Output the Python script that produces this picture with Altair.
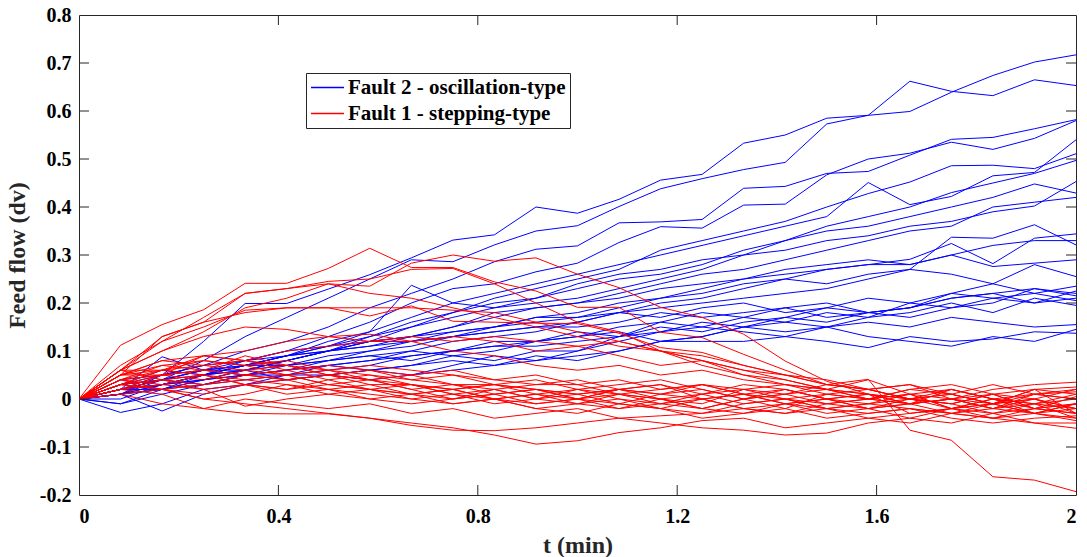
import altair as alt
import pandas as pd

T = [0, 0.0833, 0.1667, 0.25, 0.3333, 0.4167, 0.5, 0.5833, 0.6667, 0.75, 0.8333, 0.9167,
     1.0, 1.0833, 1.1667, 1.25, 1.3333, 1.4167, 1.5, 1.5833, 1.6667, 1.75, 1.8333, 1.9167, 2.0]

BLUE_NAME = "Fault 2 - oscillation-type"
RED_NAME = "Fault 1 - stepping-type"

blue_lines = [
    [0,0.01,0.05,0.12,0.199,0.199,0.229,0.259,0.294,0.331,0.342,0.400,0.387,0.416,0.456,0.468,0.533,0.550,0.585,0.591,0.662,0.641,0.632,0.665,0.653],
    [0,0.02,0.04,0.08,0.13,0.17,0.21,0.25,0.29,0.286,0.321,0.350,0.361,0.401,0.438,0.459,0.478,0.493,0.573,0.591,0.599,0.639,0.674,0.702,0.717],
    [0,0.03,0.05,0.07,0.10,0.12,0.15,0.19,0.22,0.25,0.286,0.312,0.319,0.367,0.369,0.374,0.439,0.443,0.470,0.474,0.508,0.541,0.545,0.563,0.582],
    [0,0.02,0.04,0.06,0.08,0.10,0.13,0.16,0.20,0.23,0.24,0.265,0.283,0.326,0.359,0.356,0.404,0.406,0.467,0.500,0.512,0.535,0.520,0.543,0.580],
    [0,0.01,0.03,0.05,0.07,0.09,0.12,0.14,0.17,0.20,0.22,0.24,0.26,0.28,0.30,0.32,0.34,0.36,0.38,0.451,0.405,0.422,0.465,0.472,0.540],
    [0,0.02,0.04,0.05,0.08,0.10,0.11,0.13,0.15,0.18,0.21,0.23,0.25,0.27,0.31,0.33,0.35,0.37,0.40,0.428,0.452,0.486,0.487,0.480,0.511],
    [0,-0.01,0.02,0.05,0.06,0.08,0.10,0.13,0.16,0.18,0.20,0.21,0.24,0.26,0.27,0.29,0.30,0.33,0.36,0.38,0.40,0.430,0.450,0.470,0.497],
    [0,0.03,0.06,0.05,0.07,0.09,0.11,0.14,0.237,0.20,0.19,0.21,0.23,0.25,0.26,0.28,0.31,0.33,0.35,0.36,0.38,0.40,0.42,0.448,0.429],
    [0,0.01,0.02,0.04,0.06,0.08,0.10,0.12,0.15,0.17,0.19,0.20,0.21,0.23,0.25,0.27,0.30,0.31,0.33,0.34,0.36,0.37,0.39,0.402,0.453],
    [0,0.02,0.03,0.05,0.07,0.09,0.10,0.12,0.13,0.15,0.17,0.19,0.20,0.22,0.24,0.26,0.27,0.29,0.31,0.33,0.35,0.36,0.40,0.41,0.420],
    [0,0.02,0.03,0.04,0.06,0.07,0.09,0.10,0.12,0.13,0.15,0.17,0.17,0.19,0.21,0.22,0.24,0.25,0.27,0.28,0.291,0.324,0.282,0.335,0.344],
    [0,0.01,0.02,0.03,0.05,0.07,0.08,0.09,0.10,0.12,0.13,0.14,0.16,0.18,0.20,0.21,0.23,0.25,0.24,0.26,0.27,0.337,0.335,0.363,0.321],
    [0,0.03,0.04,0.06,0.07,0.09,0.10,0.11,0.12,0.14,0.15,0.17,0.18,0.20,0.21,0.23,0.25,0.26,0.27,0.28,0.28,0.300,0.276,0.283,0.290],
    [0,0.02,0.05,0.06,0.06,0.08,0.10,0.12,0.12,0.13,0.14,0.15,0.16,0.18,0.19,0.20,0.21,0.22,0.23,0.25,0.27,0.26,0.24,0.28,0.255],
    [0,0.04,0.05,0.07,0.08,0.09,0.11,0.12,0.13,0.14,0.15,0.16,0.17,0.18,0.17,0.19,0.20,0.18,0.19,0.21,0.20,0.22,0.24,0.22,0.235],
    [0,0.01,0.03,0.05,0.07,0.07,0.08,0.10,0.11,0.13,0.14,0.15,0.15,0.16,0.18,0.17,0.18,0.19,0.17,0.18,0.19,0.21,0.22,0.23,0.215],
    [0,0.03,0.04,0.03,0.05,0.06,0.07,0.08,0.09,0.10,0.11,0.12,0.13,0.15,0.16,0.15,0.17,0.16,0.18,0.17,0.20,0.19,0.21,0.20,0.210],
    [0,0.02,0.02,0.04,0.05,0.05,0.07,0.08,0.10,0.09,0.10,0.12,0.14,0.13,0.14,0.16,0.15,0.17,0.16,0.18,0.17,0.19,0.20,0.23,0.220],
    [0,0.01,0.04,0.06,0.05,0.06,0.08,0.09,0.08,0.10,0.11,0.11,0.12,0.13,0.15,0.14,0.16,0.17,0.19,0.18,0.19,0.22,0.21,0.22,0.205],
    [0,-0.01,0.01,0.03,0.04,0.05,0.06,0.07,0.09,0.10,0.12,0.12,0.13,0.14,0.12,0.13,0.15,0.16,0.15,0.17,0.18,0.20,0.18,0.21,0.195],
    [0,0.02,0.03,0.04,0.05,0.06,0.07,0.06,0.07,0.08,0.07,0.09,0.08,0.10,0.12,0.13,0.15,0.14,0.15,0.16,0.15,0.17,0.16,0.15,0.155],
    [0,-0.028,-0.01,0.02,0.03,0.05,0.05,0.04,0.05,0.06,0.07,0.08,0.09,0.10,0.12,0.12,0.12,0.13,0.12,0.107,0.13,0.12,0.125,0.14,0.137],
    [0,0.00,0.03,0.05,0.06,0.04,0.05,0.06,0.07,0.09,0.08,0.10,0.10,0.12,0.14,0.15,0.14,0.13,0.15,0.13,0.12,0.11,0.13,0.12,0.145],
    [0,0.01,-0.025,0.01,0.03,0.04,0.05,0.06,0.05,0.07,0.09,0.08,0.10,0.13,0.16,0.18,0.17,0.19,0.20,0.18,0.19,0.21,0.22,0.20,0.225],
    [0,0.02,0.088,0.06,0.07,0.08,0.10,0.11,0.13,0.15,0.18,0.19,0.20,0.21,0.23,0.24,0.25,0.27,0.28,0.29,0.28,0.30,0.32,0.33,0.330],
]

red_lines = [
    [0,0.112,0.155,0.186,0.241,0.241,0.272,0.314,0.274,0.274,0.244,0.225,0.191,0.191,0.139,0.128,0.093,0.06,0.03,0.02,0.0,-0.01,0.01,-0.02,-0.01],
    [0,0.06,0.10,0.14,0.19,0.21,0.24,0.235,0.283,0.300,0.287,0.294,0.260,0.232,0.191,0.170,0.135,0.079,0.037,0.01,-0.01,0.0,-0.02,0.01,0.0],
    [0,0.06,0.12,0.17,0.22,0.23,0.245,0.25,0.27,0.272,0.24,0.20,0.16,0.14,0.10,0.07,0.05,0.03,0.02,0.0,0.01,-0.02,0.0,-0.03,-0.01],
    [0,0.05,0.13,0.16,0.18,0.19,0.19,0.173,0.194,0.162,0.160,0.158,0.157,0.137,0.107,0.097,0.07,0.05,0.03,0.02,0.0,0.01,-0.01,0.02,-0.03],
    [0,0.07,0.12,0.15,0.185,0.19,0.19,0.19,0.19,0.185,0.18,0.16,0.14,0.12,0.10,0.08,0.06,0.04,0.02,0.01,0.0,-0.01,0.01,0.0,0.02],
    [0,0.06,0.13,0.16,0.22,0.23,0.24,0.22,0.21,0.19,0.17,0.15,0.13,0.11,0.10,0.09,0.07,0.05,0.04,0.02,0.03,0.01,-0.01,0.0,-0.02],
    [0,0.06,0.10,0.13,0.15,0.145,0.13,0.135,0.12,0.13,0.12,0.10,0.11,0.09,0.07,0.08,0.05,0.04,0.02,0.01,0.0,0.02,0.0,-0.02,-0.03],
    [0,0.05,0.08,0.09,0.10,0.12,0.13,0.12,0.13,0.12,0.13,0.12,0.11,0.12,0.10,0.08,0.06,0.05,0.03,0.02,0.03,0.0,-0.01,0.01,0.02],
    [0,0.04,0.06,0.09,0.08,0.10,0.11,0.12,0.12,0.10,0.09,0.07,0.06,0.07,0.05,0.06,0.04,0.03,0.02,0.04,0.01,0.02,0.0,-0.01,0.01],
    [0,0.05,0.06,0.07,0.08,0.07,0.06,0.05,0.04,0.03,0.03,0.02,0.01,0.02,0.0,0.01,-0.01,0.0,0.01,0.02,0.0,-0.02,-0.01,0.0,-0.02],
    [0,0.03,0.05,0.09,0.08,0.06,0.07,0.06,0.05,0.06,0.04,0.03,0.03,0.01,0.02,0.03,0.01,0.0,-0.01,0.0,0.02,0.01,0.03,0.01,0.0],
    [0,0.06,0.04,0.03,0.05,0.06,0.04,0.05,0.03,0.02,0.03,0.01,0.0,-0.01,0.01,0.02,0.0,0.02,0.0,-0.02,-0.01,0.0,0.02,0.03,0.035],
    [0,0.02,0.04,0.05,0.04,0.05,0.03,0.04,0.02,0.03,0.01,0.02,0.0,0.02,0.03,0.0,0.01,-0.01,0.0,0.01,-0.03,-0.02,0.0,-0.01,-0.04],
    [0,0.04,0.07,0.06,0.05,0.04,0.05,0.03,0.03,0.01,0.0,0.01,0.02,0.0,-0.01,0.01,0.03,0.02,0.0,-0.01,0.0,0.01,-0.01,0.02,0.01],
    [0,0.01,0.02,0.03,0.04,0.03,0.02,0.03,0.01,0.0,0.02,0.0,-0.01,0.01,0.0,-0.02,0.0,0.01,-0.01,0.0,0.01,-0.02,-0.03,-0.01,-0.02],
    [0,0.05,0.08,0.07,0.06,0.07,0.05,0.06,0.04,0.05,0.03,0.04,0.02,0.03,0.04,0.02,0.0,0.01,0.02,0.0,-0.01,0.0,0.01,-0.02,0.005],
    [0,0.03,0.02,0.01,0.03,0.02,0.04,0.02,0.01,0.02,0.0,-0.01,0.0,0.02,0.01,0.0,-0.02,-0.01,0.0,-0.02,-0.01,-0.03,-0.02,0.0,-0.03],
    [0,0.06,0.06,0.08,0.07,0.05,0.06,0.04,0.05,0.03,0.02,0.03,0.04,0.02,0.01,0.03,0.02,0.0,-0.02,-0.01,0.01,0.0,-0.02,-0.03,-0.045],
    [0,0.02,0.05,0.04,0.06,0.05,0.03,0.02,0.03,0.01,0.02,0.0,0.01,-0.01,-0.02,0.0,0.01,-0.01,-0.03,-0.02,-0.04,-0.02,-0.01,-0.03,-0.01],
    [0,0.04,0.03,0.05,0.03,0.04,0.02,0.01,0.0,0.01,-0.01,0.0,0.02,0.01,0.0,-0.01,0.02,0.03,0.01,0.0,0.02,0.03,0.01,0.02,0.025],
    [0,0.05,0.05,0.06,0.09,0.07,0.05,0.04,0.02,0.0,0.01,-0.01,0.0,-0.02,0.0,-0.02,-0.03,-0.01,-0.02,-0.04,-0.05,-0.03,-0.04,-0.02,-0.03],
    [0,0.03,0.06,0.05,0.03,0.02,0.03,0.02,0.0,-0.01,0.0,-0.02,-0.01,0.0,-0.02,-0.03,-0.01,0.0,-0.02,-0.03,-0.02,-0.04,-0.05,-0.04,-0.035],
    [0,0.04,0.02,0.0,0.01,0.03,0.01,0.0,-0.01,0.0,0.01,0.02,0.0,0.01,-0.01,-0.02,0.0,-0.02,0.01,0.0,-0.01,0.02,0.0,0.01,0.015],
    [0,0.03,0.04,0.02,-0.015,0.0,0.01,0.02,0.01,0.02,0.0,0.01,-0.01,-0.02,-0.01,0.0,-0.02,-0.03,-0.01,-0.02,0.0,-0.01,-0.03,-0.05,-0.05],
    [0,0.02,0.01,-0.02,-0.03,-0.031,-0.031,-0.04,-0.055,-0.065,-0.066,-0.06,-0.05,-0.04,-0.035,-0.03,-0.02,-0.03,-0.02,-0.01,-0.02,-0.03,-0.04,-0.03,-0.02],
    [0,0.03,0.02,0.0,-0.01,-0.02,-0.03,-0.04,-0.05,-0.06,-0.075,-0.094,-0.087,-0.07,-0.06,-0.045,-0.04,-0.06,-0.05,-0.04,-0.03,-0.02,-0.04,-0.05,-0.061],
    [0,0.04,0.05,0.06,0.05,0.04,0.05,0.04,0.03,0.02,0.03,0.02,0.01,0.02,0.03,0.01,0.02,0.01,0.03,0.041,-0.065,-0.086,-0.162,-0.169,-0.193],
    [0,0.01,-0.01,-0.02,0.0,-0.01,-0.02,-0.01,-0.03,-0.02,-0.04,-0.03,-0.02,-0.04,-0.05,-0.06,-0.065,-0.075,-0.071,-0.05,-0.04,-0.05,-0.03,-0.02,-0.01],
    [0,0.05,0.07,0.08,0.07,0.08,0.06,0.07,0.06,0.05,0.04,0.05,0.03,0.04,0.02,0.03,0.01,0.02,0.0,0.01,-0.01,0.0,-0.02,-0.01,0.0],
    [0,0.02,0.03,0.02,0.03,0.01,0.02,0.0,0.01,-0.01,0.0,-0.02,-0.03,-0.01,-0.02,-0.04,-0.03,-0.02,-0.04,-0.03,-0.02,-0.03,-0.01,-0.03,-0.04],
]

X_TICKS = [0, 0.4, 0.8, 1.2, 1.6, 2]
Y_TICKS = [-0.2, -0.1, 0, 0.1, 0.2, 0.3, 0.4, 0.5, 0.6, 0.7, 0.8]
X_INNER = [0.4, 0.8, 1.2, 1.6]
Y_INNER = [-0.1, 0, 0.1, 0.2, 0.3, 0.4, 0.5, 0.6, 0.7]


def build(lines, name, prefix):
    rows = []
    for i, vals in enumerate(lines):
        for t, v in zip(T, vals):
            rows.append({"t": t, "v": v, "id": f"{prefix}{i}", "fault": name})
    return pd.DataFrame(rows)


df_blue = build(blue_lines, BLUE_NAME, "b")
df_red = build(red_lines, RED_NAME, "r")

FONT = "Liberation Serif"
W, H = 997, 480

xscale = alt.Scale(domain=[0, 2], nice=False, zero=False)
yscale = alt.Scale(domain=[-0.2, 0.8], nice=False, zero=False)

color = alt.Color(
    "fault:N",
    scale=alt.Scale(domain=[BLUE_NAME, RED_NAME], range=["#0000ff", "#ff0000"]),
    legend=alt.Legend(
        orient="none", legendX=227, legendY=58, title=None,
        symbolType="M-3,0H3", symbolSize=121, symbolStrokeWidth=1.5, symbolOffset=7,
        labelFont=FONT, labelFontSize=21, labelFontWeight="bold", labelColor="black",
        labelOffset=10, padding=4, rowPadding=4,
        strokeColor="#262626", fillColor="white", labelLimit=400,
    ),
)

xaxis = alt.Axis(values=X_TICKS, title="t (min)", labelExpr="toString(round(datum.value*10)/10)",
                 ticks=False, domain=False, grid=False, labelPadding=11, titlePadding=7)
yaxis = alt.Axis(values=Y_TICKS, title="Feed flow (dv)", labelExpr="toString(round(datum.value*10)/10)",
                 ticks=False, domain=False, grid=False, labelPadding=8, titlePadding=10)

blue = alt.Chart(df_blue).mark_line(strokeWidth=1, clip=True).encode(
    x=alt.X("t:Q", scale=xscale, axis=xaxis),
    y=alt.Y("v:Q", scale=yscale, axis=yaxis),
    detail="id:N",
    color=color,
)
red = alt.Chart(df_red).mark_line(strokeWidth=1, clip=True).encode(
    x=alt.X("t:Q", scale=xscale, axis=xaxis),
    y=alt.Y("v:Q", scale=yscale, axis=yaxis),
    detail="id:N",
    color=color,
)

xt = pd.DataFrame({"t": X_INNER})
yt = pd.DataFrame({"v": Y_INNER})
TICK = 10
bottom_ticks = alt.Chart(xt).mark_rule(color="#262626", strokeWidth=1).encode(
    x=alt.X("t:Q", scale=xscale, axis=xaxis), y=alt.value(H), y2=alt.value(H - TICK))
top_ticks = alt.Chart(xt).mark_rule(color="#262626", strokeWidth=1).encode(
    x=alt.X("t:Q", scale=xscale, axis=xaxis), y=alt.value(0), y2=alt.value(TICK))
left_ticks = alt.Chart(yt).mark_rule(color="#262626", strokeWidth=1).encode(
    y=alt.Y("v:Q", scale=yscale, axis=yaxis), x=alt.value(0), x2=alt.value(TICK))
right_ticks = alt.Chart(yt).mark_rule(color="#262626", strokeWidth=1).encode(
    y=alt.Y("v:Q", scale=yscale, axis=yaxis), x=alt.value(W), x2=alt.value(W - TICK))

chart = alt.layer(blue, red, bottom_ticks, top_ticks, left_ticks, right_ticks).properties(
    width=W, height=H,
    autosize=alt.AutoSizeParams(type="none"),
    padding={"left": 79, "top": 15, "right": 11, "bottom": 62},
    background="white",
).configure_view(
    stroke="#262626", strokeWidth=1
).configure_axis(
    labelFont=FONT, labelFontSize=20, labelFontWeight="bold", labelColor="black",
    titleFont=FONT, titleFontSize=24, titleFontWeight="bold", titleColor="#262626",
)

chart.save("out.html", embed_options={"renderer": "svg", "actions": False})
